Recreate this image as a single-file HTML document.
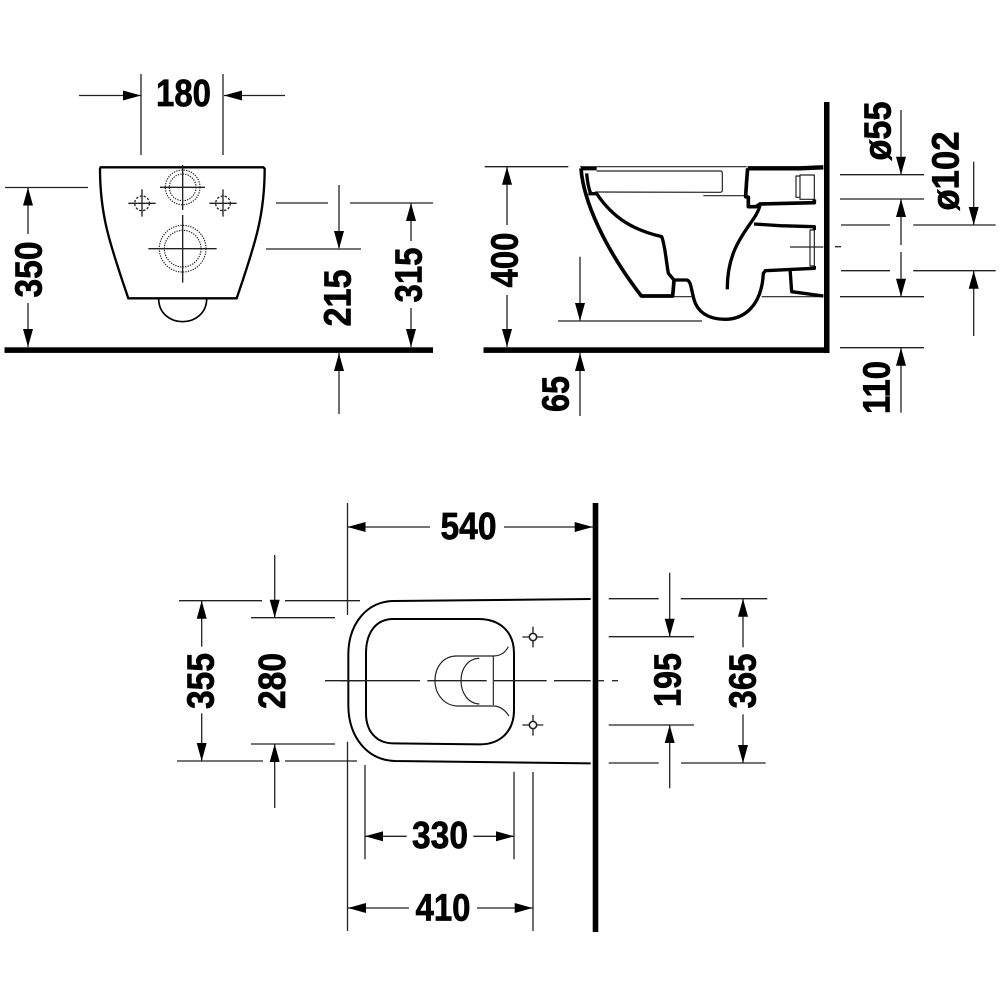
<!DOCTYPE html>
<html><head><meta charset="utf-8"><title>Diagram</title>
<style>
html,body{margin:0;padding:0;background:#fff}
svg{display:block}
text{font-family:"Liberation Sans",sans-serif;font-weight:bold;font-size:38px;fill:#000;stroke:#000;stroke-width:.7px;text-anchor:middle}
.d line,.d path{stroke:#222;stroke-width:1.3;fill:none}
</style></head><body>
<svg width="1000" height="1000" viewBox="0 0 1000 1000" xmlns="http://www.w3.org/2000/svg">
<defs><path id="a" d="M0 0L-5 18L5 18Z" fill="#000"/></defs>
<rect width="1000" height="1000" fill="#fff"/>

<!-- thick floors and walls -->
<rect x="4.5" y="347.3" width="428.5" height="5.6" fill="#000"/>
<rect x="483.5" y="347.3" width="346" height="5.6" fill="#000"/>
<rect x="824" y="102" width="5.5" height="251" fill="#000"/>
<rect x="592.7" y="503" width="5.6" height="429" fill="#000"/>

<!-- dimension lines -->
<g class="d">
<line x1="141" y1="74" x2="141" y2="155"/><line x1="223" y1="74" x2="223" y2="155"/>
<line x1="79" y1="95.5" x2="141" y2="95.5"/><line x1="224" y1="95.5" x2="285" y2="95.5"/>
<line x1="5" y1="187.5" x2="88" y2="187.5"/>
<line x1="28" y1="187.5" x2="28" y2="234"/><line x1="28" y1="303" x2="28" y2="347"/>
<line x1="339" y1="185" x2="339" y2="248"/><line x1="339" y1="353" x2="339" y2="414"/>
<line x1="276" y1="203" x2="328" y2="203"/><line x1="266" y1="249" x2="361" y2="249"/>
<line x1="350" y1="203" x2="433" y2="203"/>
<line x1="411" y1="203" x2="411" y2="241"/><line x1="411" y1="308" x2="411" y2="347"/>

<line x1="484.7" y1="166.7" x2="568.3" y2="166.7"/>
<line x1="507" y1="166.7" x2="507" y2="225"/><line x1="507" y1="295" x2="507" y2="347"/>
<line x1="580" y1="256.7" x2="580" y2="321"/><line x1="558" y1="321" x2="702" y2="321"/>
<line x1="580" y1="353" x2="580" y2="416"/>

<line x1="840" y1="174.7" x2="924" y2="174.7"/>
<line x1="840" y1="199" x2="924" y2="199"/>
<line x1="841" y1="225" x2="890" y2="225"/><line x1="913.3" y1="225" x2="995.7" y2="225"/>
<line x1="835" y1="246.7" x2="841" y2="246.7"/>
<line x1="841" y1="270.7" x2="890" y2="270.7"/><line x1="913.3" y1="270.7" x2="995.7" y2="270.7"/>
<line x1="840" y1="296.7" x2="924" y2="296.7"/>
<line x1="840" y1="347.7" x2="924" y2="347.7"/>
<line x1="901" y1="110" x2="901" y2="174"/>
<line x1="901" y1="199" x2="901" y2="245"/><line x1="901" y1="252" x2="901" y2="296"/>
<line x1="901" y1="348" x2="901" y2="412.7"/>
<line x1="973.7" y1="161.7" x2="973.7" y2="225"/><line x1="973.7" y1="270.7" x2="973.7" y2="336"/>

<line x1="347.5" y1="503" x2="347.5" y2="615"/><line x1="347.5" y1="741.7" x2="347.5" y2="931"/>
<line x1="347.5" y1="527" x2="430" y2="527"/><line x1="504" y1="527" x2="593" y2="527"/>
<line x1="179" y1="600.7" x2="262" y2="600.7"/><line x1="285" y1="600.7" x2="360" y2="600.7"/>
<line x1="251" y1="617.7" x2="335" y2="617.7"/><line x1="251" y1="744" x2="335" y2="744"/>
<line x1="177" y1="761" x2="263" y2="761"/><line x1="285" y1="761" x2="357" y2="761"/>
<line x1="201.7" y1="600.7" x2="201.7" y2="646.7"/><line x1="201.7" y1="713.3" x2="201.7" y2="761"/>
<line x1="274.7" y1="555" x2="274.7" y2="617"/><line x1="274.7" y1="744" x2="274.7" y2="808"/>
<line x1="608.7" y1="598.7" x2="658.7" y2="598.7"/><line x1="680.7" y1="598.7" x2="767.3" y2="598.7"/>
<line x1="608.7" y1="636.7" x2="694" y2="636.7"/><line x1="608.7" y1="725" x2="694" y2="725"/>
<line x1="608.7" y1="763" x2="658.7" y2="763"/><line x1="681" y1="763" x2="765.7" y2="763"/>
<line x1="669.7" y1="572.7" x2="669.7" y2="636"/><line x1="669.7" y1="725" x2="669.7" y2="788.3"/>
<line x1="743" y1="598.7" x2="743" y2="647.3"/><line x1="743" y1="714.3" x2="743" y2="763"/>
<line x1="365" y1="765" x2="365" y2="859.3"/><line x1="514" y1="771.7" x2="514" y2="859.3"/>
<line x1="533" y1="772" x2="533" y2="931"/>
<line x1="365" y1="836.3" x2="406.7" y2="836.3"/><line x1="473.3" y1="836.3" x2="514" y2="836.3"/>
<line x1="348" y1="908" x2="409" y2="908"/><line x1="477" y1="908" x2="532.7" y2="908"/>
<line x1="325" y1="680.7" x2="363" y2="680.7"/>
<line x1="598" y1="680.7" x2="604" y2="680.7"/><line x1="612" y1="680.7" x2="618" y2="680.7"/>
</g>

<!-- arrowheads -->
<use href="#a" transform="translate(141,95.5) rotate(90)"/>
<use href="#a" transform="translate(224,95.5) rotate(-90)"/>
<use href="#a" transform="translate(28,187.5)"/>
<use href="#a" transform="translate(28,347) rotate(180)"/>
<use href="#a" transform="translate(339,249) rotate(180)"/>
<use href="#a" transform="translate(339,353)"/>
<use href="#a" transform="translate(411,203)"/>
<use href="#a" transform="translate(411,347) rotate(180)"/>
<use href="#a" transform="translate(507,166.7)"/>
<use href="#a" transform="translate(507,347) rotate(180)"/>
<use href="#a" transform="translate(580,321) rotate(180)"/>
<use href="#a" transform="translate(580,353)"/>
<use href="#a" transform="translate(901,174.7) rotate(180)"/>
<use href="#a" transform="translate(901,199)"/>
<use href="#a" transform="translate(901,296.7) rotate(180)"/>
<use href="#a" transform="translate(901,347.7)"/>
<use href="#a" transform="translate(973.7,225) rotate(180)"/>
<use href="#a" transform="translate(973.7,270.7)"/>
<use href="#a" transform="translate(347.5,527) rotate(-90)"/>
<use href="#a" transform="translate(592.7,527) rotate(90)"/>
<use href="#a" transform="translate(201.7,600.7)"/>
<use href="#a" transform="translate(201.7,761) rotate(180)"/>
<use href="#a" transform="translate(274.7,617.7) rotate(180)"/>
<use href="#a" transform="translate(274.7,744)"/>
<use href="#a" transform="translate(669.7,636.7) rotate(180)"/>
<use href="#a" transform="translate(669.7,725)"/>
<use href="#a" transform="translate(743,598.7)"/>
<use href="#a" transform="translate(743,763) rotate(180)"/>
<use href="#a" transform="translate(365,836.3) rotate(-90)"/>
<use href="#a" transform="translate(514,836.3) rotate(90)"/>
<use href="#a" transform="translate(348,908) rotate(-90)"/>
<use href="#a" transform="translate(532.7,908) rotate(90)"/>

<!-- labels -->
<text x="183.5" y="106" textLength="55" lengthAdjust="spacingAndGlyphs">180</text>
<text x="468.5" y="539" textLength="56" lengthAdjust="spacingAndGlyphs">540</text>
<text x="440" y="848" textLength="56" lengthAdjust="spacingAndGlyphs">330</text>
<text x="443" y="920.5" textLength="55" lengthAdjust="spacingAndGlyphs">410</text>
<text transform="translate(41.5,269.5) rotate(-90)" textLength="56" lengthAdjust="spacingAndGlyphs">350</text>
<text transform="translate(350.5,298) rotate(-90)" textLength="57" lengthAdjust="spacingAndGlyphs">215</text>
<text transform="translate(421.5,275) rotate(-90)" textLength="55" lengthAdjust="spacingAndGlyphs">315</text>
<text transform="translate(517.5,260) rotate(-90)" textLength="55" lengthAdjust="spacingAndGlyphs">400</text>
<text transform="translate(568.5,394) rotate(-90)" textLength="36" lengthAdjust="spacingAndGlyphs">65</text>
<text transform="translate(890.5,131) rotate(-90)" textLength="59" lengthAdjust="spacingAndGlyphs">ø55</text>
<text transform="translate(958.5,171) rotate(-90)" textLength="79" lengthAdjust="spacingAndGlyphs">ø102</text>
<text transform="translate(889.5,387.5) rotate(-90)" textLength="53" lengthAdjust="spacingAndGlyphs">110</text>
<text transform="translate(213.5,681) rotate(-90)" textLength="56" lengthAdjust="spacingAndGlyphs">355</text>
<text transform="translate(285,681) rotate(-90)" textLength="56" lengthAdjust="spacingAndGlyphs">280</text>
<text transform="translate(680.5,680) rotate(-90)" textLength="54" lengthAdjust="spacingAndGlyphs">195</text>
<text transform="translate(755.5,681) rotate(-90)" textLength="55" lengthAdjust="spacingAndGlyphs">365</text>

<!-- front view (source grid: 1/3 scale, offset 0,70) -->
<g transform="translate(0,70) scale(.33333)" fill="none" stroke="#000" stroke-width="4">
<path stroke-width="7" d="M302 292H790L794 296C794 430 770 510 710 685H385C325 510 300 430 300 296Z"/>
<path stroke-width="5" d="M476 686C476 730 510 755 548 755C585 755 620 730 620 686"/>
<g stroke="#222" stroke-width="4">
<path d="M480 352H615M548 285V420M445 536H650M548 435V638M385 400H467M426 358V440M628 400H710M669 358V440"/>
</g>
<g stroke="#222" stroke-width="3.5" stroke-dasharray="4 3.5">
<circle cx="548" cy="352" r="52"/><circle cx="548" cy="352" r="40"/>
<circle cx="548" cy="536" r="70"/><circle cx="548" cy="536" r="55"/>
<circle cx="426" cy="400" r="22" stroke-dasharray="7 5" stroke-width="4"/>
<circle cx="669" cy="400" r="22" stroke-dasharray="7 5" stroke-width="4"/>
</g>
</g>

<!-- side view (source grid: 1/3 scale, offset 480,90) -->
<g transform="translate(480,90) scale(.33333)" fill="none" stroke="#000" stroke-linejoin="round">
<path stroke="#222" stroke-width="3.5" d="M300 230H800M350 243H722Q727 243 727 250V300Q727 307 720 307L345 306M670 317H795M960 255H1003V328H960ZM948 258H960V322H948ZM990 420H1003V528H990ZM930 471H1030M580 620H635M845 620H1030"/>
<path stroke-width="11" d="M303 235C310 330 370 470 484 618H578L582 572"/>
<path stroke-width="10" d="M303 236H350M320 250C322 275 326 295 332 310M325 311H350C400 385 460 420 545 440C555 465 558 510 565 550L582 570H620C632 572 632 590 640 620C650 670 690 688 735 688C790 688 845 650 850 550L856 542L1003 535V528"/>
<path stroke-width="11" d="M803 235C800 270 798 300 797 320L805 322V350H828L840 342L1003 338V328"/>
<path stroke-width="13" d="M803 235H960L1030 232"/>
<path stroke-width="10" d="M840 345C830 400 740 450 742 598M822 402L900 407L1003 410V420M930 535L935 605L1030 618"/>
</g>

<!-- plan view (source grid: 1/3 scale, offset 340,590) -->
<g transform="translate(340,590) scale(.33333)" fill="none" stroke="#000" stroke-width="6">
<path d="M752 27L160 33C80 35 27 100 25 190V350C27 440 80 510 165 513L752 520"/>
<path d="M160 87H415C480 87 522 125 522 190V360C522 425 480 463 420 463L160 460C110 460 78 425 78 370V190C78 125 110 87 160 87Z"/>
<g stroke-width="3.5" stroke="#222">
<path d="M505 170C495 190 480 198 460 198H350C310 198 285 230 285 272C285 315 315 348 355 348H460C480 348 495 360 507 378"/>
<path d="M460 198V345M418 205C385 205 363 235 363 272C363 310 385 340 418 342"/>
<path stroke-width="4" d="M0 272H240M262 272H440M462 272H620M642 272H752"/>
<path stroke-width="4" d="M547 141H566M592 141H610M579 110V128M579 153V172M547 405H566M592 405H610M579 375V392M579 418V437"/>
<circle cx="579" cy="141" r="11" stroke-width="5"/>
<circle cx="579" cy="405" r="11" stroke-width="5"/>
</g>
</g>
</svg>
</body></html>
